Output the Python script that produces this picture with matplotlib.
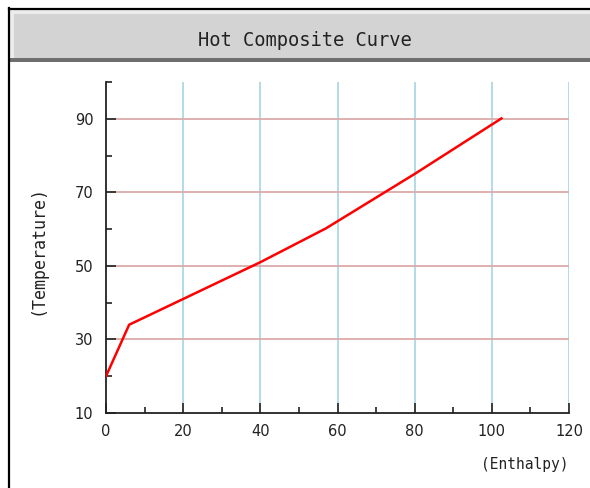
import matplotlib
matplotlib.use("Agg")
import matplotlib.pyplot as plt
from matplotlib.patches import Rectangle
from matplotlib.lines import Line2D
from matplotlib.ticker import MultipleLocator

# Data
enthalpy = [0, 6, 20, 40, 57, 80, 102.5]
temperature = [20, 34, 41, 51, 60.2, 75, 90.1]
x_ticks = [0, 20, 40, 60, 80, 100, 120]
y_ticks = [10, 30, 50, 70, 90]
title_text = "Hot Composite Curve"
x_label = "(Enthalpy)"
y_label = "(Temperature)"

W, H = 590, 488
fig = plt.figure(figsize=(W / 100, H / 100), dpi=100)
fig.patch.set_facecolor("white")

def fx(px):
    return px / W

def fy(py):
    return 1 - py / H

# window frame and title bar
fig.add_artist(Rectangle((fx(10), fy(62)), fx(590 - 10), (62 - 10) / H,
                         transform=fig.transFigure, facecolor="#ececec", edgecolor="none"))
fig.add_artist(Rectangle((fx(14), fy(58)), fx(590 - 14), (58 - 14) / H,
                         transform=fig.transFigure, facecolor="#d3d3d3", edgecolor="none"))
fig.add_artist(Rectangle((fx(10), fy(62)), fx(590 - 10), 4 / H,
                         transform=fig.transFigure, facecolor="#6e6e6e", edgecolor="none"))
fig.add_artist(Line2D([fx(9), fx(9)], [fy(8), 0], transform=fig.transFigure,
                      color="black", linewidth=1.6))
fig.add_artist(Line2D([fx(9), 1], [fy(9), fy(9)], transform=fig.transFigure,
                      color="black", linewidth=1.6))
fig.text(fx(305), fy(40), title_text, ha="center", va="center",
         fontsize=13.5, family="DejaVu Sans Mono", color="#222222")

ax = fig.add_axes([fx(106), fy(413), fx(569 - 106), (413 - 82) / H])
ax.set_xlim(0, 120)
ax.set_ylim(10, 100)

ax.set_xticks(x_ticks)
ax.set_yticks(y_ticks)
ax.xaxis.set_minor_locator(MultipleLocator(10))
ax.yaxis.set_minor_locator(MultipleLocator(20))

for xv in x_ticks[1:]:
    ax.axvline(xv, color="#add8e6", linewidth=1.3, zorder=1)
for yv in y_ticks[1:]:
    ax.plot([0, 120], [yv, yv], color="#dcaaaa", linewidth=1.3, zorder=1)

ax.plot(enthalpy, temperature, color="#ff0000", linewidth=1.8, zorder=3)

for s in ["top", "right"]:
    ax.spines[s].set_visible(False)
for s in ["left", "bottom"]:
    ax.spines[s].set_color("#222222")
    ax.spines[s].set_linewidth(1.3)

ax.tick_params(which="major", direction="in", length=7, width=1.2, color="#222222",
               labelsize=10.5, labelcolor="#222222", pad=8)
ax.tick_params(which="minor", direction="in", length=4.5, width=1.2, color="#222222")
ax.tick_params(axis="y", which="major", pad=9)

fig.text(fx(38), fy(250), y_label, rotation=90, ha="center", va="center",
         fontsize=12, family="DejaVu Sans Mono", color="#222222")
fig.text(fx(568), fy(465), x_label, ha="right", va="center",
         fontsize=10.5, family="DejaVu Sans Mono", color="#222222")

fig.savefig("out.png", dpi=100)
